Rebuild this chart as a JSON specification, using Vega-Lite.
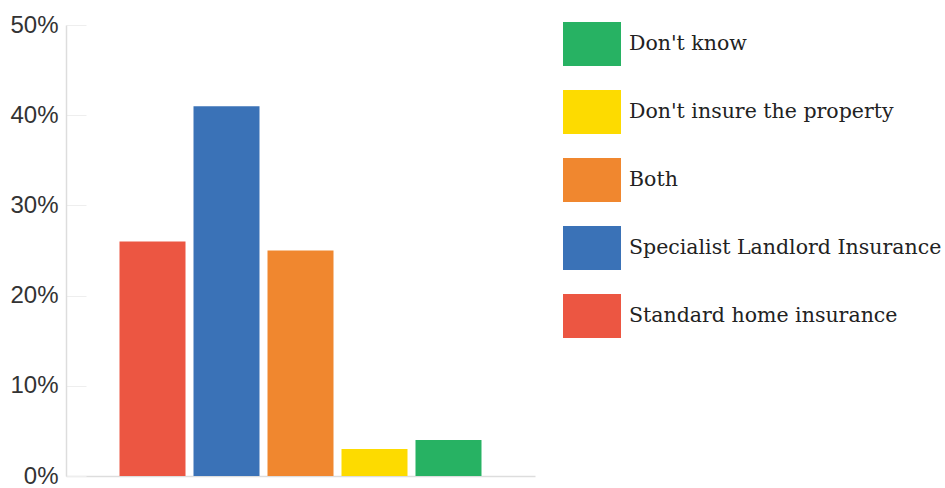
{
  "$schema": "https://vega.github.io/schema/vega-lite/v6.json",
  "autosize": {"type": "none"},
  "width": 469,
  "height": 451,
  "padding": {"left": 66, "top": 25, "right": 410, "bottom": 12},
  "background": "white",
  "config": {"view": {"stroke": null}},
  "data": {
    "values": [
      {"category": "Standard home insurance", "value": 26},
      {"category": "Specialist Landlord Insurance", "value": 41},
      {"category": "Both", "value": 25},
      {"category": "Don't insure the property", "value": 3},
      {"category": "Don't know", "value": 4}
    ]
  },
  "mark": {"type": "bar"},
  "encoding": {
    "x": {
      "field": "category",
      "type": "nominal",
      "sort": ["Standard home insurance", "Specialist Landlord Insurance", "Both", "Don't insure the property", "Don't know"],
      "scale": {"paddingInner": 0.108, "paddingOuter": 0.723},
      "axis": {"title": null, "labels": false, "ticks": false, "domainColor": "#dddddd", "domainWidth": 1.5}
    },
    "y": {
      "field": "value",
      "type": "quantitative",
      "scale": {"domain": [0, 50], "nice": false},
      "axis": {
        "title": null,
        "values": [0, 10, 20, 30, 40, 50],
        "labelExpr": "datum.value + '%'",
        "grid": false,
        "domainColor": "#dddddd",
        "domainWidth": 1.5,
        "tickColor": "#eeeeee",
        "tickSize": -20,
        "labelFont": "Liberation Sans",
        "labelFontSize": 24,
        "labelColor": "#333333",
        "labelPadding": 28
      }
    },
    "color": {
      "field": "category",
      "type": "nominal",
      "scale": {
        "domain": ["Don't know", "Don't insure the property", "Both", "Specialist Landlord Insurance", "Standard home insurance"],
        "range": ["#27B263", "#FDDB00", "#F0872F", "#3A72B7", "#EC5642"]
      },
      "legend": {
        "title": null,
        "orient": "none",
        "legendX": 497,
        "legendY": -10,
        "symbolType": "M-1,-0.76L1,-0.76L1,0.76L-1,0.76Z",
        "symbolSize": 3364,
        "symbolStrokeWidth": 0,
        "symbolOpacity": 1,
        "labelFont": "DejaVu Serif",
        "labelFontSize": 20.5,
        "labelColor": "#222222",
        "labelOffset": 8,
        "labelLimit": 400,
        "rowPadding": 16
      }
    }
  }
}
